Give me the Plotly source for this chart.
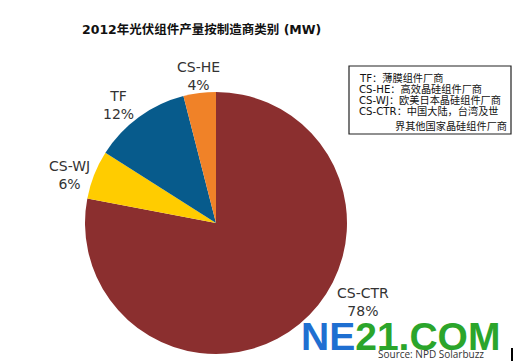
import plotly.graph_objects as go

categories = ["CS-CTR", "CS-WJ", "TF", "CS-HE"]
shares = [78, 6, 12, 4]
colors = ["#8B2F2F", "#FFCC00", "#075B8C", "#F08228"]
label_texts = ["CS-CTR<br>78%", "CS-WJ<br>6%", "TF<br>12%", "CS-HE<br>4%"]
label_pos = [(363, 302), (69, 175), (118, 105), (198, 76)]  # label centres in px
legend_lines = ["TF：薄膜组件厂商", "CS-HE：高效晶硅组件厂商", "CS-WJ：欧美日本晶硅组件厂商",
                "CS-CTR：中国大陆，台湾及世", "界其他国家晶硅组件厂商"]
title = "<b>2012年光伏组件产量按制造商类别 (MW)</b>"
W, H = 514, 361

def px(x): return x / W
def py(y): return 1 - y / H

fig = go.Figure(go.Pie(
    labels=categories, values=shares, sort=False, direction="clockwise", rotation=0,
    marker=dict(colors=colors, line=dict(width=0)),
    textinfo="none", hoverinfo="label+percent", showlegend=False,
    domain=dict(x=[px(85), px(347)], y=[py(354), py(92)]),
))

ann = []
font_main = "Verdana, DejaVu Sans, Noto Sans CJK SC"
for t, (x, y) in zip(label_texts, label_pos):
    ann.append(dict(x=px(x), y=py(y), xref="paper", yref="paper", text=t, showarrow=False,
                    xanchor="center", yanchor="middle",
                    font=dict(family=font_main, size=14, color="#333333")))
ann.append(dict(x=px(80), y=py(30), xref="paper", yref="paper", text=title, showarrow=False,
                xanchor="left", yanchor="middle",
                font=dict(family="DejaVu Sans, Noto Sans CJK SC", size=12.5, color="#111111")))
ys = [78, 89, 100, 111, 126]
xs = [357, 357, 357, 357, 393]
for t, x, y in zip(legend_lines, xs, ys):
    ann.append(dict(x=px(x), y=py(y), xref="paper", yref="paper", text=t, showarrow=False,
                    xanchor="left", yanchor="middle",
                    font=dict(family="DejaVu Sans, Noto Sans CJK SC", size=10.2, color="#111111")))
ann.append(dict(x=px(400), y=py(336), xref="paper", yref="paper",
                text="<b><span style='color:#1F6FD1'>NE</span><span style='color:#2BA52B'>21.COM</span></b>",
                showarrow=False, xanchor="center", yanchor="middle",
                font=dict(family="Liberation Sans, Arial", size=39)))
ann.append(dict(x=px(431), y=py(354), xref="paper", yref="paper", text="Source: NPD Solarbuzz",
                showarrow=False, xanchor="center", yanchor="middle",
                font=dict(family="Open Sans, DejaVu Sans", size=10, color="#333333")))

fig.update_layout(
    width=W, height=H, margin=dict(l=0, r=0, t=0, b=0),
    paper_bgcolor="white", plot_bgcolor="white",
    annotations=ann,
    shapes=[dict(type="rect", xref="paper", yref="paper", x0=px(349), x1=px(511), y0=py(134), y1=py(66),
                 line=dict(color="#222222", width=1.2)),
            dict(type="line", xref="paper", yref="paper", x0=px(512), x1=px(512), y0=py(348), y1=py(361),
                 line=dict(color="#000000", width=2))],
)
fig.write_html("out.html")
